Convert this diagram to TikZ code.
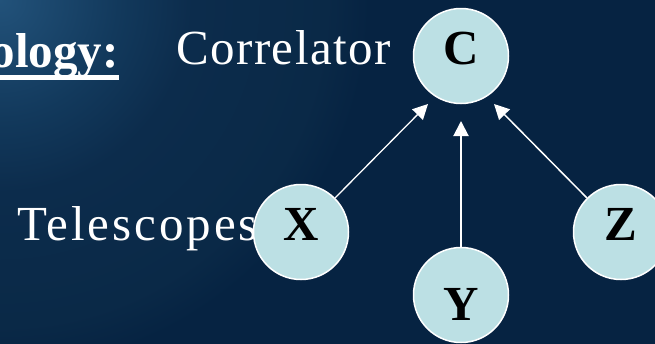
\documentclass[tikz,border=0pt]{standalone}
\usepackage{fontspec}
\setmainfont{Liberation Serif}
\usetikzlibrary{arrows.meta,calc}
\definecolor{bglight}{HTML}{22527A}
\definecolor{bgmid}{HTML}{12395C}
\definecolor{bgdark}{HTML}{0C2C4C}
\definecolor{bgfar}{HTML}{0A2947}
\definecolor{bgdeep}{HTML}{062342}
\definecolor{sitefill}{HTML}{BCE0E4}
\pgfdeclareradialshading{bgglow}{\pgfpoint{0bp}{0bp}}{color(0bp)=(bglight); color(4bp)=(bgmid); color(6.5bp)=(bgdark); color(11bp)=(bgfar); color(12.5bp)=(bgdeep); color(50bp)=(bgdeep)}

\begin{document}
\begin{tikzpicture}[x=1pt,y=-1pt,
  >={Triangle[length=15pt,width=15pt]},
  big/.style={font=\fontsize{49}{58}\selectfont, text=white, inner sep=0pt},
  site/.style={circle, draw=white, line width=1.5pt, fill=sitefill, minimum size=95pt, inner sep=0pt,
    font=\fontsize{49}{58}\selectfont\bfseries, text=black, text height=16pt, text depth=0pt},
  link/.style={->, draw=white, line width=1.5pt},
]
% background
\useasboundingbox (0,0) rectangle (655,343);
\begin{scope}
  \clip (0,0) rectangle (655,343);
  \shade[shading=bgglow] (0,0) circle (740);
\end{scope}
% labels
\node[big, font=\fontsize{49}{58}\selectfont\bfseries, anchor=base east] (title) at (119,67) {ology:\hspace{2pt}};
\draw[white, line width=4.8pt] ($(title.base west)+(0,10.5)$) -- ($(title.base east)+(0,10.5)$);
\node[big, anchor=base west] (corlbl) at (176,64) {\addfontfeatures{LetterSpace=3}Correlator};
\node[big, anchor=base west] (tellbl) at (17,240) {\addfontfeatures{LetterSpace=6}Telescopes};
% correlator and telescopes
\node[site] (cor) at (461,56) {C};
\node[site] (x) at (301,232) {X};
\node[site, text height=50pt] (y) at (461,295) {Y};
\node[site] (z) at (621,232) {Z};
% baselines into the correlator
\coordinate (inx) at ($(cor)+(-33,48)$);
\coordinate (iny) at ($(cor)+(0,65)$);
\coordinate (inz) at ($(cor)+(33,48)$);
\draw[link, line width=1.3pt] (x.45) -- (inx);
\draw[link, line width=2pt] (y.north) -- (iny);
\draw[link] (z.135) -- (inz);
\end{tikzpicture}
\end{document}
